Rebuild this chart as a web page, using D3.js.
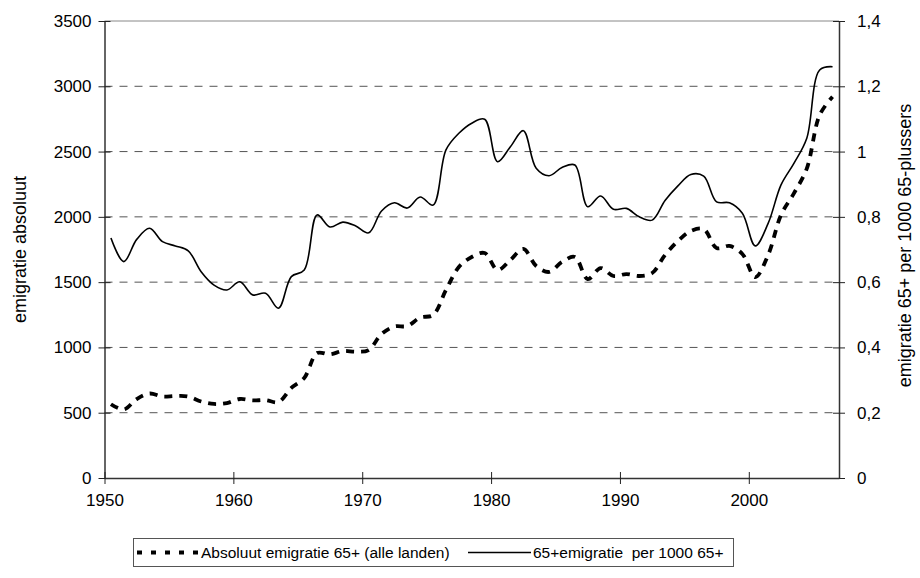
<!DOCTYPE html>
<html>
<head>
<meta charset="utf-8">
<script src="https://cdn.jsdelivr.net/npm/d3@7"></script>
<style>
  body { margin: 0; background: #fff; }
  svg { display: block; font-family: "Liberation Sans", Arial, sans-serif; }
</style>
</head>
<body>
<svg width="920" height="578"></svg>
<script>
const years = [1950, 1951, 1952, 1953, 1954, 1955, 1956, 1957, 1958, 1959,
    1960, 1961, 1962, 1963, 1964, 1965, 1966, 1967, 1968, 1969,
    1970, 1971, 1972, 1973, 1974, 1975, 1976, 1977, 1978, 1979,
    1980, 1981, 1982, 1983, 1984, 1985, 1986, 1987, 1988, 1989,
    1990, 1991, 1992, 1993, 1994, 1995, 1996, 1997, 1998, 1999,
    2000, 2001, 2002, 2003, 2004, 2005, 2006];

// absolute emigration 65+ (left axis)
const absolute = [565, 525, 605, 647, 624, 628, 624, 586, 567, 574,
    605, 594, 597, 582, 690, 766, 957, 947, 973, 967,
    980, 1103, 1160, 1164, 1229, 1248, 1440, 1616, 1693, 1723,
    1593, 1670, 1754, 1624, 1578, 1654, 1693, 1524, 1608, 1547,
    1562, 1547, 1570, 1708, 1815, 1892, 1907, 1761, 1777, 1716,
    1539, 1708, 2014, 2180, 2370, 2780, 2920];

// emigration per 1000 65+ (right axis)
const rate = [0.735, 0.663, 0.731, 0.765, 0.724, 0.711, 0.696, 0.632, 0.591, 0.576,
    0.601, 0.561, 0.566, 0.520, 0.617, 0.637, 0.806, 0.769, 0.784, 0.772,
    0.751, 0.818, 0.843, 0.827, 0.861, 0.836, 1.005, 1.056, 1.087, 1.099,
    0.969, 1.015, 1.064, 0.949, 0.926, 0.951, 0.959, 0.831, 0.864, 0.823,
    0.826, 0.800, 0.790, 0.850, 0.895, 0.930, 0.925, 0.846, 0.843, 0.811,
    0.711, 0.780, 0.898, 0.964, 1.041, 1.250, 1.260];

const xTicks = [1950, 1960, 1970, 1980, 1990, 2000];
const leftTicks = [0, 500, 1000, 1500, 2000, 2500, 3000, 3500];
const rightTicks = [0, 0.2, 0.4, 0.6, 0.8, 1, 1.2, 1.4];

const legendLabels = ['Absoluut emigratie 65+ (alle landen)', '65+emigratie\u00a0 per 1000 65+'];

const svg = d3.select('svg');
const plotLeft = 104.5, plotRight = 839, plotTop = 21, plotBottom = 478;

const x = d3.scaleLinear().domain([1950, 2007]).range([plotLeft, plotRight]);
const yL = d3.scaleLinear().domain([0, 3500]).range([plotBottom, plotTop]);
const yR = d3.scaleLinear().domain([0, 1.4]).range([plotBottom, plotTop]);

// gridlines
svg.append('g')
    .selectAll('line')
    .data(leftTicks.filter(d => d > 0))
    .enter()
    .append('line')
    .attr('x1', plotLeft).attr('x2', plotRight)
    .attr('y1', d => yL(d)).attr('y2', d => yL(d))
    .attr('stroke', d => d === 3500 ? '#888' : '#555')
    .attr('stroke-width', 1)
    .attr('stroke-dasharray', d => d === 3500 ? null : '8,7');

// axes
const fmtR = d => d3.format('.1~f')(d).replace('.', ',');

const gL = svg.append('g')
    .attr('transform', `translate(${plotLeft},0)`)
    .call(d3.axisLeft(yL).tickValues(leftTicks).tickFormat(d3.format('d')).tickSizeInner(6).tickSizeOuter(0).tickPadding(7));
gL.selectAll('.tick line').attr('x2', 6).attr('x1', -6);

const gR = svg.append('g')
    .attr('transform', `translate(${plotRight},0)`)
    .call(d3.axisRight(yR).tickValues(rightTicks).tickFormat(fmtR).tickSizeInner(6).tickSizeOuter(0).tickPadding(12));
gR.selectAll('.tick line').attr('x1', -6).attr('x2', 6);

const gX = svg.append('g')
    .attr('transform', `translate(0,${plotBottom})`)
    .call(d3.axisBottom(x).tickValues(xTicks).tickFormat(d3.format('d')).tickSizeInner(6).tickSizeOuter(0).tickPadding(10));
gX.selectAll('.tick line').attr('y1', -6).attr('y2', 6);

[gL, gR, gX].forEach(g => {
    g.select('.domain').attr('stroke', '#333').attr('stroke-width', 1.5);
    g.selectAll('.tick line').attr('stroke', '#222');
    g.selectAll('.tick text').attr('font-size', 17).attr('fill', '#000')
        .attr('font-family', '"Liberation Sans", Arial, sans-serif');
});

// axis titles
svg.append('text')
    .attr('transform', `translate(26,${(plotTop + plotBottom) / 2}) rotate(-90)`)
    .attr('text-anchor', 'middle')
    .attr('font-size', 18)
    .text('emigratie absoluut');

svg.append('text')
    .attr('transform', `translate(911,${(plotTop + plotBottom) / 2 - 4}) rotate(-90)`)
    .attr('text-anchor', 'middle')
    .attr('font-size', 18)
    .text('emigratie 65+ per 1000 65-plussers');

// lines
const absLine = d3.line()
    .x((d, i) => x(years[i] + 0.5))
    .y(d => yL(d))
    .curve(d3.curveCatmullRom.alpha(0.5));

const rateLine = d3.line()
    .x((d, i) => x(years[i] + 0.5))
    .y(d => yR(d))
    .curve(d3.curveCatmullRom.alpha(0.5));

svg.append('path')
    .datum(rate)
    .attr('d', rateLine)
    .attr('fill', 'none')
    .attr('stroke', '#000')
    .attr('stroke-width', 1.6);

svg.append('path')
    .datum(absolute)
    .attr('d', absLine)
    .attr('fill', 'none')
    .attr('stroke', '#000')
    .attr('stroke-width', 3.8)
    .attr('stroke-dasharray', '8,7');

// legend
const legend = svg.append('g');
legend.append('rect')
    .attr('x', 133.5).attr('y', 538.5)
    .attr('width', 600).attr('height', 28)
    .attr('fill', '#fff').attr('stroke', '#555');

legend.append('line')
    .attr('x1', 137).attr('x2', 199).attr('y1', 552.5).attr('y2', 552.5)
    .attr('stroke', '#000').attr('stroke-width', 3.8).attr('stroke-dasharray', '5,9');
legend.append('text')
    .attr('x', 201).attr('y', 558)
    .attr('font-size', 15.5)
    .text(legendLabels[0]);

legend.append('line')
    .attr('x1', 468).attr('x2', 531).attr('y1', 552.5).attr('y2', 552.5)
    .attr('stroke', '#000').attr('stroke-width', 1.4);
legend.append('text')
    .attr('x', 533).attr('y', 558)
    .attr('font-size', 15.5)
    .text(legendLabels[1]);
</script>
</body>
</html>
